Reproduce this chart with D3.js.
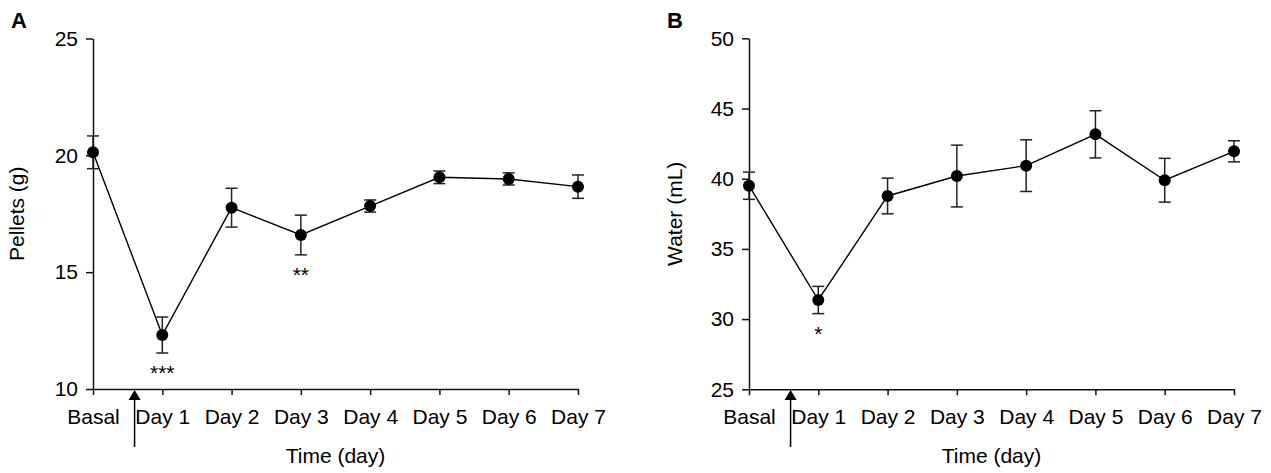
<!DOCTYPE html>
<html lang="en">
<head>
    <meta charset="UTF-8">
    <title>Pellets and water intake</title>
    <script src="https://d3js.org/d3.v7.min.js"></script>
    <style>
        body { margin: 0; background: white; font-family: "Liberation Sans", Arial, sans-serif; }
        svg text { fill: #000; }
    </style>
</head>
<body>
    <svg id="chart" width="1271" height="473"></svg>

    <script>
        // categories shared by both panels
        const days = ["Basal", "Day 1", "Day 2", "Day 3", "Day 4", "Day 5", "Day 6", "Day 7"];

        // panel A: pellets (g), mean and SEM
        const pelletsMean = [20.13, 12.31, 17.76, 16.59, 17.83, 19.06, 18.99, 18.66];
        const pelletsSem  = [0.70, 0.77, 0.83, 0.85, 0.26, 0.27, 0.26, 0.50];
        const pelletsStars = ["", "***", "", "**", "", "", "", ""];
        const pelletsTicks = [10, 15, 20, 25];

        // panel B: water (mL), mean and SEM
        const waterMean = [39.50, 31.36, 38.77, 40.19, 40.93, 43.16, 39.89, 41.95];
        const waterSem  = [0.97, 0.97, 1.27, 2.20, 1.84, 1.68, 1.56, 0.75];
        const waterStars = ["", "*", "", "", "", "", "", ""];
        const waterTicks = [25, 30, 35, 40, 45, 50];

        // treatment arrow sits between Basal and Day 1
        const arrowAt = 0.6;

        const svg = d3.select("#chart");
        const font = "Liberation Sans, Arial, sans-serif";

        function drawPanel(p) {
            const g = svg.append("g");

            const x = d3.scalePoint().domain(days).range([p.x0, p.x1]).padding(0);
            const y = d3.scaleLinear().domain([p.ticks[0], p.ticks[p.ticks.length - 1]]).range([p.yBottom, p.yTop]);

            // y axis
            const yAxis = g.append("g")
                .attr("transform", `translate(${p.x0},0)`)
                .call(d3.axisLeft(y).tickValues(p.ticks).tickSize(7).tickSizeOuter(0).tickPadding(8));
            yAxis.selectAll("text").style("font-size", "21px").style("font-family", font);

            // x axis
            const xAxis = g.append("g")
                .attr("transform", `translate(0,${p.yBottom})`)
                .call(d3.axisBottom(x).tickSize(6).tickSizeOuter(0).tickPadding(14));
            xAxis.selectAll("text").style("font-size", "21px").style("font-family", font);

            g.selectAll(".domain, .tick line").attr("stroke", "#111").attr("stroke-width", 1.5);

            // panel letter
            g.append("text")
                .attr("x", p.letterX).attr("y", 28)
                .style("font-size", "22px").style("font-weight", "bold")
                .text(p.letter);

            // y title
            g.append("text")
                .attr("transform", `translate(${p.yTitleX},${(p.yTop + p.yBottom) / 2}) rotate(-90)`)
                .attr("text-anchor", "middle")
                .style("font-size", "21px")
                .text(p.yTitle);

            // x title
            g.append("text")
                .attr("x", (p.x0 + p.x1) / 2).attr("y", 463)
                .attr("text-anchor", "middle")
                .style("font-size", "21px")
                .text("Time (day)");

            // arrow
            const ax = p.x0 + arrowAt * x.step();
            g.append("line")
                .attr("x1", ax).attr("x2", ax)
                .attr("y1", 398).attr("y2", 447)
                .attr("stroke", "#000").attr("stroke-width", 1.5);
            g.append("path")
                .attr("d", `M${ax},390 L${ax - 6},400 L${ax + 6},400 Z`)
                .attr("fill", "#000");

            const rows = days.map((d, i) => ({ day: d, mean: p.mean[i], sem: p.sem[i], star: p.stars[i] }));

            // connecting line
            g.append("path")
                .datum(rows)
                .attr("fill", "none")
                .attr("stroke", "#000")
                .attr("stroke-width", 1.4)
                .attr("d", d3.line().x(d => x(d.day)).y(d => y(d.mean)));

            // error bars
            const eb = g.selectAll("g.err").data(rows).enter().append("g").attr("class", "err");
            eb.append("line")
                .attr("x1", d => x(d.day)).attr("x2", d => x(d.day))
                .attr("y1", d => y(d.mean - d.sem)).attr("y2", d => y(d.mean + d.sem))
                .attr("stroke", "#222").attr("stroke-width", 1.5);
            eb.append("line")
                .attr("x1", d => x(d.day) - 6).attr("x2", d => x(d.day) + 6)
                .attr("y1", d => y(d.mean + d.sem)).attr("y2", d => y(d.mean + d.sem))
                .attr("stroke", "#222").attr("stroke-width", 1.5);
            eb.append("line")
                .attr("x1", d => x(d.day) - 6).attr("x2", d => x(d.day) + 6)
                .attr("y1", d => y(d.mean - d.sem)).attr("y2", d => y(d.mean - d.sem))
                .attr("stroke", "#222").attr("stroke-width", 1.5);

            // points
            g.selectAll("circle.pt").data(rows).enter().append("circle")
                .attr("class", "pt")
                .attr("cx", d => x(d.day)).attr("cy", d => y(d.mean))
                .attr("r", 6).attr("fill", "#000");

            // significance marks
            g.selectAll("text.star").data(rows.filter(d => d.star)).enter().append("text")
                .attr("class", "star")
                .attr("x", d => x(d.day)).attr("y", d => y(d.mean - d.sem) + 27)
                .attr("text-anchor", "middle")
                .style("font-size", "21px")
                .text(d => d.star);
        }

        drawPanel({
            letter: "A", letterX: 11,
            x0: 93, x1: 578, yTop: 38.5, yBottom: 389,
            ticks: pelletsTicks, mean: pelletsMean, sem: pelletsSem, stars: pelletsStars,
            yTitle: "Pellets (g)", yTitleX: 24
        });

        drawPanel({
            letter: "B", letterX: 667,
            x0: 749, x1: 1234, yTop: 38.3, yBottom: 389.3,
            ticks: waterTicks, mean: waterMean, sem: waterSem, stars: waterStars,
            yTitle: "Water (mL)", yTitleX: 682
        });
    </script>
</body>
</html>
